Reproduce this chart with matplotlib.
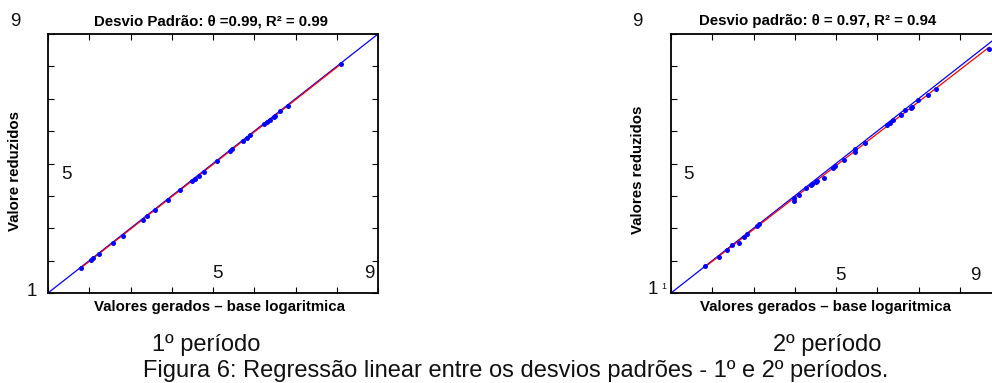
import numpy as np
import matplotlib
matplotlib.use("Agg")
import matplotlib.pyplot as plt

plt.rcParams['font.family'] = ['Liberation Sans', 'DejaVu Sans']

# ---- data ----
x1 = [1.79, 2.04, 2.10, 2.24, 2.57, 2.81, 3.30, 3.40, 3.60, 3.92, 4.21, 4.50,
      4.56, 4.66, 4.77, 5.10, 5.40, 5.46, 5.72, 5.82, 5.90, 6.24, 6.30, 6.38,
      6.48, 6.51, 6.63, 6.83, 8.10]
y1 = [1.78, 2.02, 2.09, 2.22, 2.54, 2.77, 3.26, 3.38, 3.57, 3.88, 4.18, 4.47,
      4.52, 4.62, 4.74, 5.07, 5.39, 5.44, 5.70, 5.80, 5.88, 6.22, 6.29, 6.34,
      6.45, 6.48, 6.61, 6.78, 8.07]

x2 = [1.82, 2.16, 2.36, 2.47, 2.65, 2.76, 2.85, 3.08, 3.14, 3.97, 3.97, 4.11,
      4.28, 4.40, 4.43, 4.51, 4.54, 4.71, 4.92, 4.98, 5.19, 5.47, 5.47, 5.71,
      6.23, 6.30, 6.38, 6.58, 6.68, 6.83, 6.84, 6.99, 7.23, 7.43, 8.71]
y2 = [1.84, 2.12, 2.32, 2.47, 2.55, 2.74, 2.83, 3.07, 3.12, 3.84, 3.94, 4.04,
      4.25, 4.35, 4.37, 4.43, 4.46, 4.56, 4.85, 4.92, 5.12, 5.36, 5.46, 5.64,
      6.18, 6.26, 6.33, 6.49, 6.64, 6.70, 6.75, 6.95, 7.11, 7.31, 8.54]

axis_min, axis_max = 1, 9
ticks = list(range(1, 10))

titles = ["Desvio Padrão: θ =0.99, R² = 0.99", "Desvio padrão: θ = 0.97, R² = 0.94"]
ylabels = ["Valore reduzidos", "Valores reduzidos"]
xlabel = "Valores gerados – base logaritmica"
captions = ["1º período", "2º período"]
figcaption = "Figura 6: Regressão linear entre os desvios padrões - 1º e 2º períodos."

W, H = 992, 383
fig = plt.figure(figsize=(W / 100, H / 100), dpi=100)
fig.patch.set_facecolor('white')


def px_axes(left, top, right, bottom):
    return fig.add_axes([left / W, 1 - bottom / H, (right - left) / W, (bottom - top) / H])


def ftext(x, y, s, **kw):
    fig.text(x / W, 1 - y / H, s, **kw)


def panel(ax, xs, ys):
    ax.plot([axis_min, axis_max], [axis_min, axis_max], color=(0, 0, 1), lw=0.9, zorder=2)
    coef = np.polyfit(xs, ys, 1)
    xr = np.array([min(xs), max(xs)])
    ax.plot(xr, np.polyval(coef, xr), color=(1, 0, 0), lw=0.9, zorder=3)
    ax.plot(xs, ys, 'o', color=(0, 0, 1), ms=3.6, mec='none', zorder=4)
    ax.set_xlim(axis_min, axis_max)
    ax.set_ylim(axis_min, axis_max)
    ax.set_xticks(ticks)
    ax.set_yticks(ticks)
    ax.tick_params(direction='in', length=4, width=0.8, top=True, right=True,
                   labelbottom=False, labelleft=False, color='black')
    for s in ax.spines.values():
        s.set_linewidth(1.3)
        s.set_color('black')


ax1 = px_axes(48, 34, 378, 293)
panel(ax1, x1, y1)
ax2 = px_axes(671, 34, 1001, 293)
panel(ax2, x2, y2)

big = dict(fontsize=13.5, ha='center', va='center', color='#111111')
# left panel numbers
ftext(15, 21.5, "9", **big)
ftext(66, 174, "5", **big)
ftext(31.5, 291.5, "1", **big)
ftext(217.5, 274, "5", **big)
ftext(369, 274, "9", **big)
# right panel numbers
ftext(637, 21.5, "9", **big)
ftext(688, 174, "5", **big)
ftext(653, 290, "1", **big)
ftext(663.5, 286.5, "1", fontsize=6.5, ha='center', va='center', color='#111111')
ftext(840, 275, "5", **big)
ftext(975, 275, "9", **big)

tkw = dict(fontsize=10.8, fontweight='bold', ha='center', va='center')
ftext(211, 21, titles[0], **tkw)
ftext(818, 21, titles[1], **tkw)
ftext(220, 306.5, xlabel, **tkw)
ftext(826, 306.5, xlabel, **tkw)
ftext(15, 171, ylabels[0], rotation=90, **tkw)
ftext(638, 170, ylabels[1], rotation=90, **tkw)

ckw = dict(fontsize=17, ha='center', va='baseline', color='#111111')
ftext(206, 350.5, captions[0], **ckw)
ftext(827, 350.5, captions[1], **ckw)
ftext(516, 376.5, figcaption, **ckw)

fig.savefig("out.png", dpi=100, facecolor='white')
